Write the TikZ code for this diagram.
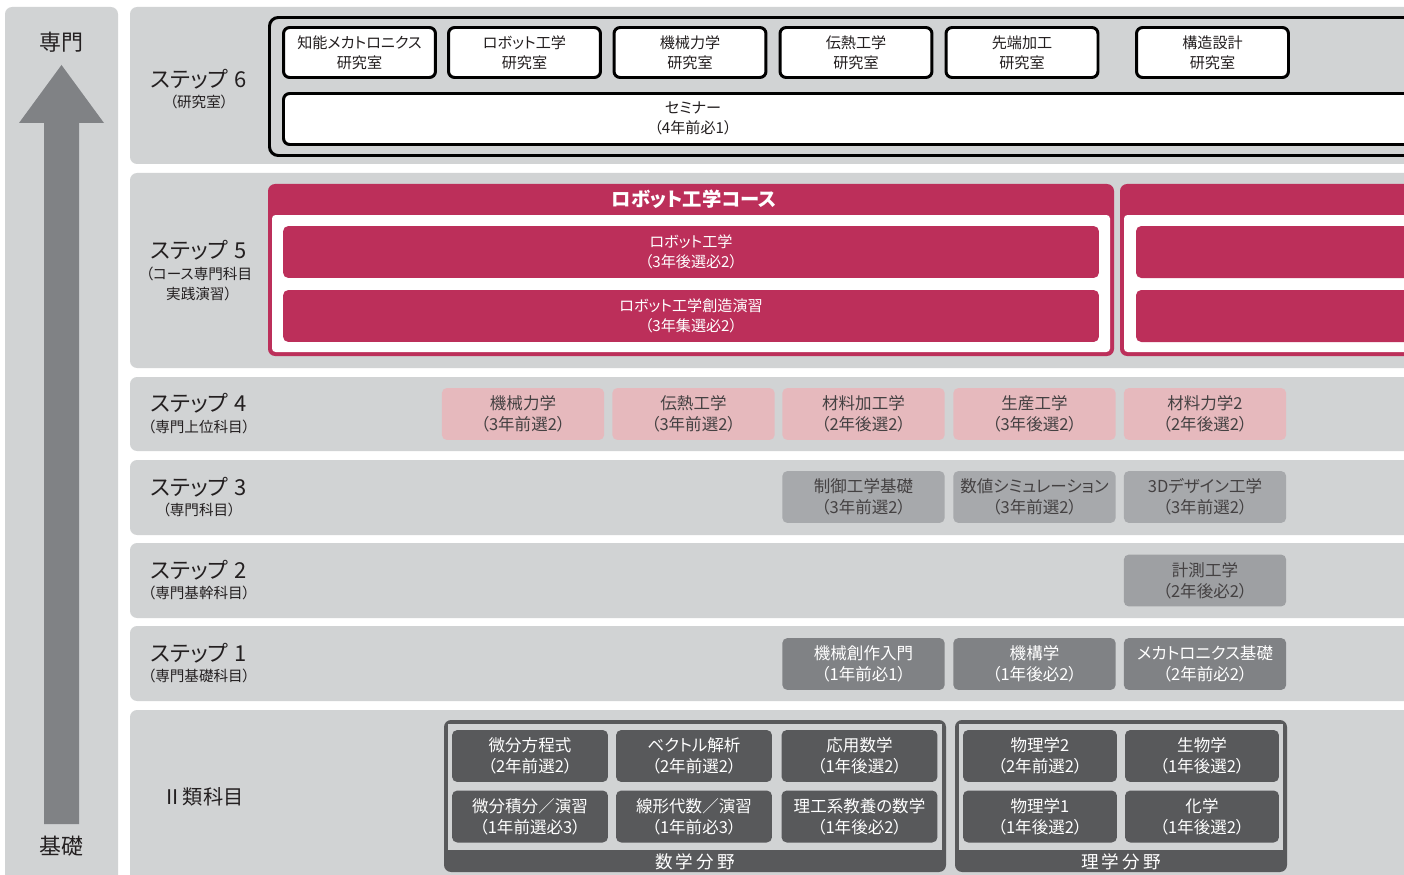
\documentclass[tikz,border=0pt]{standalone}
\usepackage{fontspec}
\setmainfont{Noto Sans CJK JP}[RawFeature=+palt]
\newfontfamily\widejp{Noto Sans CJK JP}[LetterSpace=18]
\usepackage{xcolor}
\usepackage{tikz}
\usetikzlibrary{positioning}
\definecolor{bandgray}{RGB}{209,211,212}
\definecolor{arrowgray}{RGB}{128,130,133}
\definecolor{coursered}{RGB}{188,47,90}
\definecolor{upperpink}{RGB}{230,185,189}
\definecolor{midgray}{RGB}{167,169,172}
\definecolor{stemgray}{RGB}{158,160,163}
\definecolor{mathdark}{RGB}{88,89,91}
\definecolor{inktext}{RGB}{35,31,32}
\newcommand{\boxfont}{\fontsize{9.4}{12}\selectfont}
\newcommand{\labfont}{\fontsize{8.6}{11.3}\selectfont}
\newcommand{\steptitlefont}{\fontsize{12.5}{14}\selectfont}
\newcommand{\stepsubfont}{\fontsize{8.3}{11.3}\selectfont}
\newcommand{\stepname}[1]{ステップ\hspace{0.3em}#1}

\begin{document}
\begin{tikzpicture}[
    x=0.02cm, y=-0.02cm,
    band/.style={fill=bandgray, rounded corners=4pt},
    steptitle/.style={inner sep=0pt, font=\steptitlefont, text=inktext},
    stepsub/.style={inner sep=0pt, align=center, font=\stepsubfont, text=inktext},
    labbox/.style={rectangle, draw=black, line width=1.7pt, fill=white, rounded corners=3.5pt, minimum width=3.04cm, minimum height=1.0cm, inner sep=0pt, align=center, font=\labfont, text=inktext},
    course/.style={rectangle, rounded corners=3pt, minimum width=3.25cm, minimum height=1.04cm, inner sep=0pt, align=center, font=\boxfont},
    upper/.style={course, fill=upperpink, text=inktext!85},
    special/.style={course, fill=midgray, text=inktext!85},
    core/.style={course, fill=stemgray, text=inktext!85},
    basic/.style={course, fill=arrowgray, text=white},
    mathbox/.style={course, fill=mathdark, text=white, minimum width=3.12cm},
    scibox/.style={course, fill=mathdark, text=white, minimum width=3.08cm},
    redbox/.style={course, fill=coursered, text=white, font=\labfont, minimum width=16.32cm}
]
    \useasboundingbox (0,0) rectangle (1404,875);
    \clip (0,0) rectangle (1404,875);
    \fill[white] (0,0) rectangle (1404,875);

    % Left column with arrow
    \fill[band] (5,7) rectangle (118,895);
    \fill[arrowgray] (44,824) -- (44,123) -- (19,123) -- (61.5,65) -- (104,123) -- (79,123) -- (79,824) -- cycle;
    \node[steptitle] (senmon) at (61,42) {専門};
    \node[steptitle] (kiso) at (61,846) {基礎};

    % Bands
    \fill[band] (130,7) rectangle (1440,164);
    \fill[band] (130,173) rectangle (1440,368);
    \fill[band] (130,377) rectangle (1440,451);
    \fill[band] (130,460) rectangle (1440,535);
    \fill[band] (130,543) rectangle (1440,618);
    \fill[band] (130,626) rectangle (1440,701);
    \fill[band] (130,710) rectangle (1440,895);

    % Step 6
    \node[steptitle] (st6) at (199,79) {\stepname{6}};
    \node[stepsub] (st6s) at (199,102) {（研究室）};
    \draw[black, line width=1.7pt, rounded corners=5pt] (269.5,17.5) rectangle (1440,155.5);
    \node[labbox] (lab1) at (359.5,52.5) {知能メカトロニクス\\研究室};
    \node[labbox] (lab2) at (524.5,52.5) {ロボット工学\\研究室};
    \node[labbox] (lab3) at (690,52.5) {機械力学\\研究室};
    \node[labbox] (lab4) at (856,52.5) {伝熱工学\\研究室};
    \node[labbox] (lab5) at (1022,52.5) {先端加工\\研究室};
    \node[labbox] (lab6) at (1212.5,52.5) {構造設計\\研究室};
    \draw[black, line width=1.7pt, fill=white, rounded corners=3.5pt] (283.5,93.5) rectangle (1440,144.5);
    \node[stepsub, font=\labfont] (seminar) at (693,118) {セミナー\\（4年前必1）};

    % Step 5
    \node[steptitle] (st5) at (199,250) {\stepname{5}};
    \node[stepsub] (st5s) at (199,284) {（コース専門科目\\実践演習）};
    \fill[coursered, rounded corners=4pt] (268,184) rectangle (1114,356);
    \fill[white, rounded corners=2pt] (272,215) rectangle (1110,352);
    \node[font=\fontsize{11}{12}\bfseries, text=white] (robcourse) at (694,199) {ロボット工学コース};
    \node[redbox] (rob1) at (691,252) {ロボット工学\\（3年後選必2）};
    \node[redbox] (rob2) at (691,316) {ロボット工学創造演習\\（3年集選必2）};
    \fill[coursered, rounded corners=4pt] (1120,184) rectangle (1460,356);
    \fill[white, rounded corners=2pt] (1124,215) rectangle (1460,352);
    \fill[coursered, rounded corners=3pt] (1136,226) rectangle (1460,278);
    \fill[coursered, rounded corners=3pt] (1136,290) rectangle (1460,342);

    % Step 4
    \node[steptitle] (st4) at (199,403) {\stepname{4}};
    \node[stepsub] (st4s) at (199,427) {（専門上位科目）};
    \node[upper] (up1) at (523,414) {機械力学\\（3年前選2）};
    \node[upper] (up2) at (693.5,414) {伝熱工学\\（3年前選2）};
    \node[upper] (up3) at (863.5,414) {材料加工学\\（2年後選2）};
    \node[upper] (up4) at (1034.5,414) {生産工学\\（3年後選2）};
    \node[upper] (up5) at (1205,414) {材料力学2\\（2年後選2）};

    % Step 3
    \node[steptitle] (st3) at (199,487) {\stepname{3}};
    \node[stepsub] (st3s) at (199,510) {（専門科目）};
    \node[special] (sp1) at (863.5,497) {制御工学基礎\\（3年前選2）};
    \node[special] (sp2) at (1034.5,497) {数値シミュレーション\\（3年前選2）};
    \node[special] (sp3) at (1205,497) {3Dデザイン工学\\（3年前選2）};

    % Step 2
    \node[steptitle] (st2) at (199,570) {\stepname{2}};
    \node[stepsub] (st2s) at (199,593) {（専門基幹科目）};
    \node[core] (co1) at (1205,580.5) {計測工学\\（2年後必2）};

    % Step 1
    \node[steptitle] (st1) at (199,653) {\stepname{1}};
    \node[stepsub] (st1s) at (199,676) {（専門基礎科目）};
    \node[basic] (ba1) at (863.5,664) {機械創作入門\\（1年前必1）};
    \node[basic] (ba2) at (1034.5,664) {機構学\\（1年後必2）};
    \node[basic] (ba3) at (1205,664) {メカトロニクス基礎\\（2年前必2）};

    % Class II subjects
    \node[steptitle, font=\fontsize{11.5}{13}\selectfont] (cls2) at (203,797) {Ⅱ類科目};
    \fill[mathdark, rounded corners=4pt] (444,720) rectangle (946,872);
    \fill[bandgray] (448,724) rectangle (942,850);
    \node[mathbox] (m1) at (530,756) {微分方程式\\（2年前選2）};
    \node[mathbox] (m2) at (694,756) {ベクトル解析\\（2年前選2）};
    \node[mathbox] (m3) at (859.5,756) {応用数学\\（1年後選2）};
    \node[mathbox] (m4) at (530,816.5) {微分積分／演習\\（1年前選必3）};
    \node[mathbox] (m5) at (694,816.5) {線形代数／演習\\（1年前必3）};
    \node[mathbox] (m6) at (859.5,816.5) {理工系教養の数学\\（1年後必2）};
    \node[text=white, inner sep=0pt, font=\widejp\fontsize{10}{12}\selectfont] (mathfield) at (695,862) {数学分野};

    \fill[mathdark, rounded corners=4pt] (955,720) rectangle (1287,872);
    \fill[bandgray] (959,724) rectangle (1283,850);
    \node[scibox] (p2) at (1040,756) {物理学2\\（2年前選2）};
    \node[scibox] (bio) at (1202,756) {生物学\\（1年後選2）};
    \node[scibox] (p1) at (1040,816.5) {物理学1\\（1年後選2）};
    \node[scibox] (chem) at (1202,816.5) {化学\\（1年後選2）};
    \node[text=white, inner sep=0pt, font=\widejp\fontsize{10}{12}\selectfont] (scifield) at (1121,862) {理学分野};
\end{tikzpicture}
\end{document}
